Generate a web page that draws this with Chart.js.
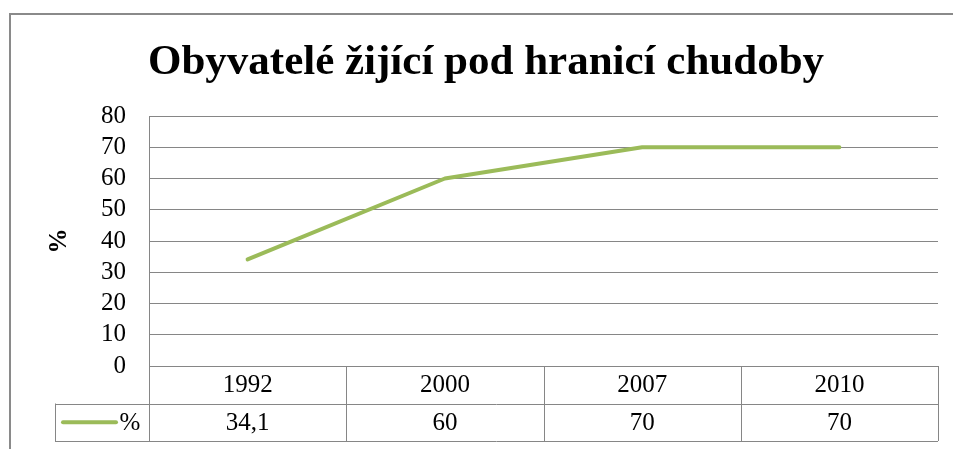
<!DOCTYPE html>
<html>
<head>
<meta charset="utf-8">
<script src="https://cdn.jsdelivr.net/npm/chart.js@4/dist/chart.umd.min.js"></script>
<style>
  html, body { margin: 0; padding: 0; background: #fff; }
  #wrap { width: 953px; height: 449px; position: relative; }
</style>
</head>
<body>
<div id="wrap"><canvas id="chart"></canvas></div>
<script>
const years = ['1992', '2000', '2007', '2010'];
const values = [34.1, 60, 70, 70];
const seriesName = '%';
const yTicks = [0, 10, 20, 30, 40, 50, 60, 70, 80];

const green = '#9BBB59';
const gridGray = '#868686';
const serif = "'Liberation Serif', 'Times New Roman', serif";

// frame around the whole chart (cropped at right and bottom)
const framePlugin = {
    id: 'frame',
    beforeDraw(chart) {
        const ctx = chart.ctx;
        ctx.save();
        ctx.strokeStyle = '#8a8a8a';
        ctx.lineWidth = 2;
        ctx.beginPath();
        ctx.moveTo(10, chart.height);
        ctx.lineTo(10, 14);
        ctx.lineTo(chart.width, 14);
        ctx.stroke();
        ctx.restore();
    }
};

// Excel style data table under the plot
const tablePlugin = {
    id: 'dataTable',
    afterDraw(chart) {
        const ctx = chart.ctx;
        const x = chart.scales.x;
        const top = chart.chartArea.bottom;
        const rowH = 37.5;
        const mid = top + rowH;
        const bot = top + rowH * 2;
        const colW = (x.right - x.left) / years.length;
        const legendLeft = 55;

        ctx.save();
        ctx.strokeStyle = gridGray;
        ctx.lineWidth = 1;
        ctx.beginPath();
        for (let i = 0; i <= years.length; i++) {
            const px = Math.round(x.left + i * colW) + 0.5;
            ctx.moveTo(px, top);
            ctx.lineTo(px, bot);
        }
        ctx.moveTo(legendLeft + 0.5, mid);
        ctx.lineTo(legendLeft + 0.5, bot);
        ctx.moveTo(legendLeft, Math.round(mid) + 0.5);
        ctx.lineTo(x.right, Math.round(mid) + 0.5);
        ctx.moveTo(legendLeft, Math.round(bot) + 0.5);
        ctx.lineTo(x.right, Math.round(bot) + 0.5);
        ctx.stroke();

        ctx.fillStyle = '#000';
        ctx.font = '25px ' + serif;
        ctx.textAlign = 'center';
        ctx.textBaseline = 'middle';
        years.forEach((yr, i) => {
            const cx = x.getPixelForValue(i);
            ctx.fillText(yr, cx, top + rowH / 2 + 1);
            ctx.fillText(String(values[i]).replace('.', ','), cx, mid + rowH / 2 + 1);
        });

        // legend key
        const ky = mid + rowH / 2;
        ctx.strokeStyle = green;
        ctx.lineWidth = 4;
        ctx.lineCap = 'round';
        ctx.beginPath();
        ctx.moveTo(63, ky);
        ctx.lineTo(116, ky);
        ctx.stroke();
        ctx.fillText(seriesName, 130, ky + 1);
        ctx.restore();
    }
};

new Chart(document.getElementById('chart'), {
    type: 'line',
    data: {
        labels: years,
        datasets: [{
            label: seriesName,
            data: values,
            borderColor: green,
            borderWidth: 4,
            borderCapStyle: 'round',
            borderJoinStyle: 'round',
            pointRadius: 0,
            tension: 0,
            fill: false
        }]
    },
    options: {
        responsive: true,
        maintainAspectRatio: false,
        animation: false,
        layout: {
            padding: { top: 0, left: 34, right: 15, bottom: 83 }
        },
        plugins: {
            legend: { display: false },
            tooltip: { enabled: false },
            title: {
                display: true,
                text: 'Obyvatelé žijící pod hranicí chudoby',
                color: '#000',
                font: { family: serif, size: 43, weight: 'bold', lineHeight: 1.2 },
                padding: { top: 37, bottom: 27.4 }
            }
        },
        scales: {
            x: {
                type: 'category',
                display: false,
                offset: true
            },
            y: {
                min: 0,
                max: 80,
                afterFit(scale) { scale.width = 115; },
                afterBuildTicks(scale) { scale.ticks = yTicks.map(v => ({ value: v })); },
                grid: { color: gridGray, lineWidth: 1, drawTicks: false },
                border: { display: true, color: gridGray, width: 1 },
                ticks: {
                    color: '#000',
                    padding: 23,
                    autoSkip: false,
                    font: { family: serif, size: 25 }
                },
                title: {
                    display: true,
                    text: '%',
                    color: '#000',
                    font: { family: serif, size: 25, weight: 'bold', lineHeight: 1.2 },
                    padding: { top: 11, bottom: 0 }
                }
            }
        }
    },
    plugins: [framePlugin, tablePlugin]
});
</script>
</body>
</html>
